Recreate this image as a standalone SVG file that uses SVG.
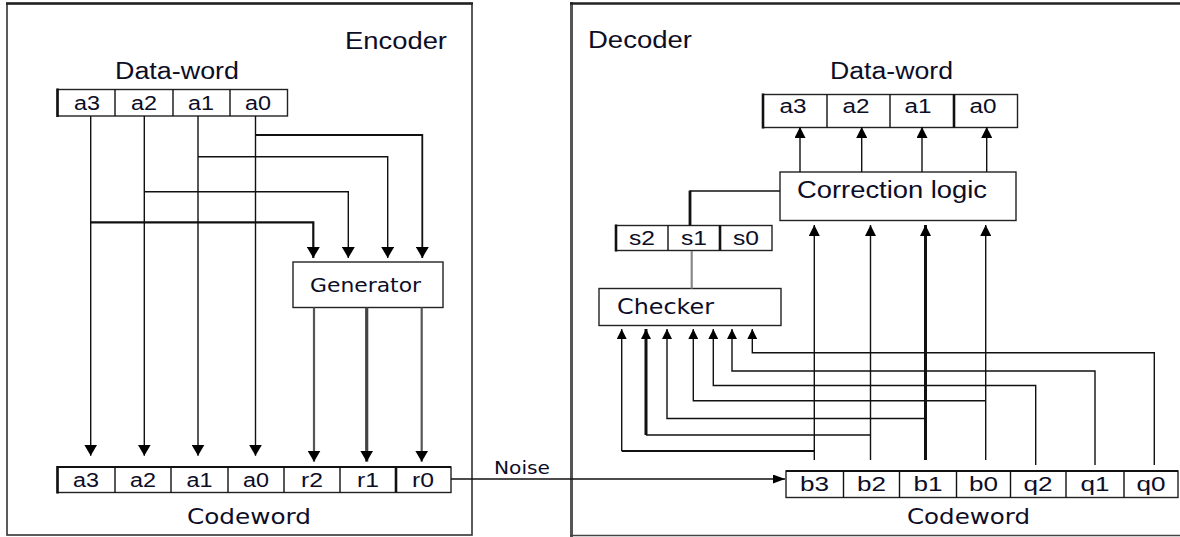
<svg xmlns="http://www.w3.org/2000/svg" width="1180" height="537" viewBox="0 0 1180 537">
<defs>
<marker id="ahL" viewBox="0 0 10 10" refX="10" refY="5" markerWidth="11" markerHeight="13" markerUnits="userSpaceOnUse" orient="auto" preserveAspectRatio="none"><path d="M0,0 L10,5 L0,10 z" fill="#000"/></marker>
<marker id="ahM" viewBox="0 0 10 10" refX="10" refY="5" markerWidth="11" markerHeight="11" markerUnits="userSpaceOnUse" orient="auto" preserveAspectRatio="none"><path d="M0,0 L10,5 L0,10 z" fill="#000"/></marker>
<marker id="ahS" viewBox="0 0 10 10" refX="10" refY="5" markerWidth="10" markerHeight="10" markerUnits="userSpaceOnUse" orient="auto" preserveAspectRatio="none"><path d="M0,0 L10,5 L0,10 z" fill="#000"/></marker>
<marker id="ahN" viewBox="0 0 10 10" refX="10" refY="5" markerWidth="12" markerHeight="9" markerUnits="userSpaceOnUse" orient="auto" preserveAspectRatio="none"><path d="M0,0 L10,5 L0,10 z" fill="#000"/></marker>
</defs>
<style>
.box{fill:#fff;stroke:#222;stroke-width:1.4}
.thk{stroke:#111;stroke-width:2.6;fill:none}
.ln{stroke:#111;stroke-width:1.4;fill:none}
.t{font-family:"Liberation Sans",Arial,sans-serif;fill:#0d0d26}
.v{font-family:"DejaVu Sans",Verdana,sans-serif;fill:#0d0d26}
.cell{font-family:"Liberation Sans",Arial,sans-serif;font-size:20px;fill:#0d0d26;text-anchor:middle}
.title{font-size:23px}
</style>
<rect width="1180" height="537" fill="#fff"/>

<g id="encoder-frame">
<rect x="7" y="3.5" width="465" height="531.5" fill="none" stroke="#333" stroke-width="1.6"/>
<line x1="6" y1="3.5" x2="473" y2="3.5" stroke="#222" stroke-width="2.4"/>
<text class="t title" x="345" y="49" textLength="102" lengthAdjust="spacingAndGlyphs">Encoder</text>
</g>

<g id="decoder-frame">
<line x1="571.5" y1="2" x2="571.5" y2="537" stroke="#555" stroke-width="3"/>
<line x1="570" y1="3.5" x2="1180" y2="3.5" stroke="#222" stroke-width="2.4"/>
<line x1="570" y1="535.5" x2="1180" y2="535.5" stroke="#444" stroke-width="1.4"/>
<text class="t title" x="588" y="48" textLength="104" lengthAdjust="spacingAndGlyphs">Decoder</text>
</g>

<g id="enc-dataword">
<text class="t title" x="115" y="79" textLength="124" lengthAdjust="spacingAndGlyphs">Data-word</text>
<rect class="box" x="57.5" y="89.5" width="230" height="26.5"/>
<line class="thk" x1="57.5" y1="88.5" x2="57.5" y2="117"/>
<line class="ln" x1="115" y1="89.5" x2="115" y2="116"/>
<line class="ln" x1="173" y1="89.5" x2="173" y2="116"/>
<line class="ln" x1="230" y1="89.5" x2="230" y2="116"/>
<text class="cell" x="87" y="110" textLength="26" lengthAdjust="spacingAndGlyphs">a3</text>
<text class="cell" x="144" y="110" textLength="26" lengthAdjust="spacingAndGlyphs">a2</text>
<text class="cell" x="201" y="110" textLength="26" lengthAdjust="spacingAndGlyphs">a1</text>
<text class="cell" x="258" y="110" textLength="26" lengthAdjust="spacingAndGlyphs">a0</text>
</g>

<g id="generator">
<rect class="box" x="293" y="262" width="150" height="45.5"/>
<text class="v" x="310" y="292" font-size="19" textLength="111" lengthAdjust="spacingAndGlyphs">Generator</text>
</g>

<g id="enc-codeword">
<rect class="box" x="57.5" y="467" width="393.5" height="25.5"/>
<line class="thk" x1="57.5" y1="466" x2="57.5" y2="493.5"/>
<line x1="57" y1="467" x2="451" y2="467" stroke="#111" stroke-width="2"/>
<line class="ln" x1="115" y1="467" x2="115" y2="492.5"/>
<line class="ln" x1="171" y1="467" x2="171" y2="492.5"/>
<line class="ln" x1="228" y1="467" x2="228" y2="492.5"/>
<line class="ln" x1="284" y1="467" x2="284" y2="492.5"/>
<line class="ln" x1="340" y1="467" x2="340" y2="492.5"/>
<line class="thk" x1="396" y1="467" x2="396" y2="492.5"/>
<text class="cell" x="86" y="487" textLength="26" lengthAdjust="spacingAndGlyphs">a3</text>
<text class="cell" x="143" y="487" textLength="26" lengthAdjust="spacingAndGlyphs">a2</text>
<text class="cell" x="199.5" y="487" textLength="26" lengthAdjust="spacingAndGlyphs">a1</text>
<text class="cell" x="256" y="487" textLength="26" lengthAdjust="spacingAndGlyphs">a0</text>
<text class="cell" x="312" y="487" textLength="22" lengthAdjust="spacingAndGlyphs">r2</text>
<text class="cell" x="368" y="487" textLength="22" lengthAdjust="spacingAndGlyphs">r1</text>
<text class="cell" x="423" y="487" textLength="22" lengthAdjust="spacingAndGlyphs">r0</text>
<text class="v" x="187" y="524" font-size="21" textLength="124" lengthAdjust="spacingAndGlyphs">Codeword</text>
</g>

<g id="dec-dataword">
<text class="t title" x="830" y="79" textLength="123" lengthAdjust="spacingAndGlyphs">Data-word</text>
<rect class="box" x="763" y="94.5" width="254.5" height="33"/>
<line class="thk" x1="763" y1="93.5" x2="763" y2="128.5"/>
<line class="ln" x1="827" y1="94.5" x2="827" y2="127.5"/>
<line class="ln" x1="890" y1="94.5" x2="890" y2="127.5"/>
<line class="thk" x1="954" y1="94.5" x2="954" y2="127.5"/>
<text class="cell" x="793" y="113" textLength="27" lengthAdjust="spacingAndGlyphs">a3</text>
<text class="cell" x="856" y="113" textLength="27" lengthAdjust="spacingAndGlyphs">a2</text>
<text class="cell" x="918" y="113" textLength="27" lengthAdjust="spacingAndGlyphs">a1</text>
<text class="cell" x="983" y="113" textLength="27" lengthAdjust="spacingAndGlyphs">a0</text>
</g>

<g id="correction-logic">
<rect class="box" x="780" y="172" width="236" height="48.5"/>
<text class="t title" x="797" y="198" textLength="190" lengthAdjust="spacingAndGlyphs">Correction logic</text>
</g>

<g id="syndrome">
<rect class="box" x="616" y="225.5" width="156" height="25"/>
<line class="thk" x1="616" y1="224.5" x2="616" y2="251.5"/>
<line class="ln" x1="668" y1="225.5" x2="668" y2="250.5"/>
<line class="thk" x1="720" y1="225.5" x2="720" y2="250.5"/>
<text class="cell" x="642" y="245" textLength="26" lengthAdjust="spacingAndGlyphs">s2</text>
<text class="cell" x="694" y="245" textLength="26" lengthAdjust="spacingAndGlyphs">s1</text>
<text class="cell" x="746" y="245" textLength="26" lengthAdjust="spacingAndGlyphs">s0</text>
</g>

<g id="checker">
<rect class="box" x="599" y="288.5" width="182" height="37"/>
<text class="v" x="617" y="314" font-size="21" textLength="97" lengthAdjust="spacingAndGlyphs">Checker</text>
</g>

<g id="dec-codeword">
<rect class="box" x="786" y="471" width="392" height="26.5"/>
<line x1="786" y1="471" x2="1178" y2="471" stroke="#111" stroke-width="2.2"/>
<line class="ln" x1="843.5" y1="471" x2="843.5" y2="497.5"/>
<line class="ln" x1="899.5" y1="471" x2="899.5" y2="497.5"/>
<line class="ln" x1="956.5" y1="471" x2="956.5" y2="497.5"/>
<line class="ln" x1="1010.5" y1="471" x2="1010.5" y2="497.5"/>
<line class="ln" x1="1066" y1="471" x2="1066" y2="497.5"/>
<line class="ln" x1="1124" y1="471" x2="1124" y2="497.5"/>
<text class="cell" x="814.5" y="491" textLength="29" lengthAdjust="spacingAndGlyphs">b3</text>
<text class="cell" x="871.5" y="491" textLength="29" lengthAdjust="spacingAndGlyphs">b2</text>
<text class="cell" x="928" y="491" textLength="29" lengthAdjust="spacingAndGlyphs">b1</text>
<text class="cell" x="983.5" y="491" textLength="29" lengthAdjust="spacingAndGlyphs">b0</text>
<text class="cell" x="1038" y="491" textLength="29" lengthAdjust="spacingAndGlyphs">q2</text>
<text class="cell" x="1095" y="491" textLength="29" lengthAdjust="spacingAndGlyphs">q1</text>
<text class="cell" x="1151" y="491" textLength="29" lengthAdjust="spacingAndGlyphs">q0</text>
<text class="v" x="907" y="524" font-size="21" textLength="123" lengthAdjust="spacingAndGlyphs">Codeword</text>
</g>

<g id="connectors">
<line class="ln" x1="90.7" y1="116" x2="90.7" y2="455.7" marker-end="url(#ahL)"/>
<line class="ln" x1="144.3" y1="116" x2="144.3" y2="455.7" marker-end="url(#ahL)"/>
<line class="ln" x1="198" y1="116" x2="198" y2="455.7" marker-end="url(#ahL)"/>
<line class="ln" x1="255.5" y1="116" x2="255.5" y2="455.7" marker-end="url(#ahL)"/>
<path d="M90.7,222.3 H313.3 V258" fill="none" stroke="#111" stroke-width="2.2" marker-end="url(#ahL)"/>
<path class="ln" d="M144.3,191.7 H348.3 V258" marker-end="url(#ahL)"/>
<path class="ln" d="M198,156.7 H387.7 V258" marker-end="url(#ahL)"/>
<path d="M255.5,135 H422.3 V258" fill="none" stroke="#111" stroke-width="1.8" marker-end="url(#ahL)"/>
<line x1="314" y1="307.5" x2="314" y2="461.7" stroke="#555" stroke-width="2.2" marker-end="url(#ahL)"/>
<line x1="366.7" y1="307.5" x2="366.7" y2="461.7" stroke="#444" stroke-width="3.2" marker-end="url(#ahL)"/>
<line x1="421.7" y1="307.5" x2="421.7" y2="461.7" stroke="#555" stroke-width="2.2" marker-end="url(#ahL)"/>
<line class="ln" x1="451" y1="479" x2="785" y2="479" marker-end="url(#ahN)"/>
<text class="v" x="494" y="474" font-size="18" textLength="56" lengthAdjust="spacingAndGlyphs">Noise</text>
<line class="ln" x1="800" y1="172" x2="800" y2="127" marker-end="url(#ahM)"/>
<line class="ln" x1="861.7" y1="172" x2="861.7" y2="127" marker-end="url(#ahM)"/>
<line class="ln" x1="922" y1="172" x2="922" y2="127" marker-end="url(#ahM)"/>
<line class="ln" x1="986.7" y1="172" x2="986.7" y2="127" marker-end="url(#ahM)"/>
<path class="ln" d="M780,191 H690"/>
<line x1="690" y1="190.5" x2="690" y2="225.5" stroke="#111" stroke-width="2.8"/>
<line x1="691.7" y1="251" x2="691.7" y2="288.5" stroke="#888" stroke-width="2.2"/>
<line class="ln" x1="814.3" y1="460" x2="814.3" y2="225" marker-end="url(#ahM)"/>
<line class="ln" x1="870.5" y1="460" x2="870.5" y2="225" marker-end="url(#ahM)"/>
<line x1="925.5" y1="460" x2="925.5" y2="225" stroke="#111" stroke-width="3" marker-end="url(#ahM)"/>
<line class="ln" x1="985.7" y1="460" x2="985.7" y2="225" marker-end="url(#ahM)"/>
<path d="M814.3,451 H621.7" fill="none" stroke="#111" stroke-width="2.2"/>
<line class="ln" x1="621.7" y1="451" x2="621.7" y2="329" marker-end="url(#ahS)"/>
<path class="ln" d="M870.5,435 H646"/>
<line x1="646" y1="435" x2="646" y2="329" stroke="#111" stroke-width="3" marker-end="url(#ahS)"/>
<path class="ln" d="M925.5,418.5 H667 V329" marker-end="url(#ahS)"/>
<path class="ln" d="M985.7,400.7 H693.3 V329" marker-end="url(#ahS)"/>
<path class="ln" d="M1035.7,465 V385.5 H713.3 V329" marker-end="url(#ahS)"/>
<path class="ln" d="M1095,465 V371 H732 V329" marker-end="url(#ahS)"/>
<path class="ln" d="M1154.3,465 V352.7 H752.3 V329" marker-end="url(#ahS)"/>
</g>
</svg>
